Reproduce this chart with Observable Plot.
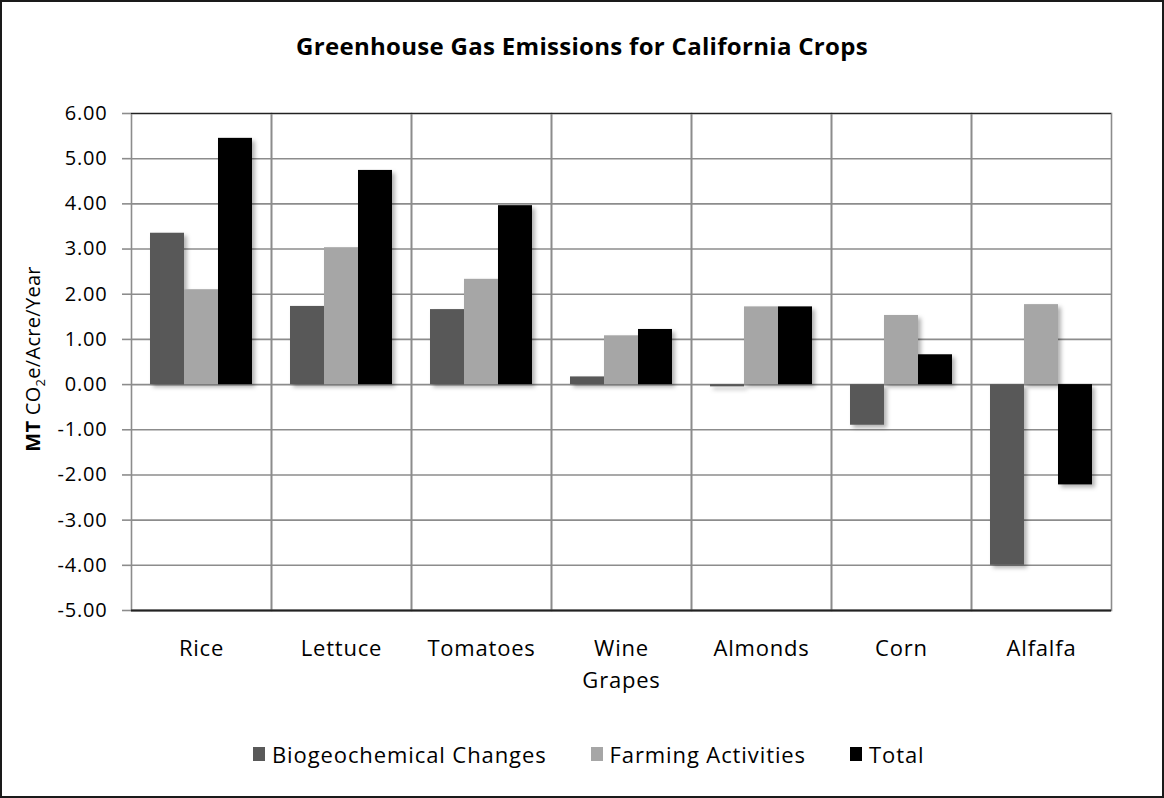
<!DOCTYPE html>
<html>
<head>
<meta charset="utf-8">
<script src="https://cdn.jsdelivr.net/npm/d3@7"></script>
<script src="https://cdn.jsdelivr.net/npm/@observablehq/plot@0.6"></script>
<style>
  html, body { margin: 0; padding: 0; background: #fff; }
  #frame {
    position: relative; width: 1164px; height: 798px; box-sizing: border-box;
    border: 2px solid #1a1a1a; background: #fff; overflow: hidden;
    font-family: "Open Sans", sans-serif; color: #000;
  }
  #title {
    position: absolute; left: 0; right: 0; top: 29px; text-align: center;
    font-weight: bold; font-size: 24px; line-height: 30px; letter-spacing: 0.3px;
  }
  #chart { position: absolute; left: 0; top: 0; }
  #legend {
    position: absolute; left: 251px; top: 737px; display: flex;
    justify-content: flex-start; align-items: center; font-size: 22px; line-height: 30px;
    letter-spacing: 0.9px; white-space: nowrap;
  }
  #legend .item { display: flex; align-items: center; margin-right: 44px; }
  #legend .sw { width: 12px; height: 14px; margin-right: 7px; }
  svg text { letter-spacing: 0.8px; }
</style>
</head>
<body>
<div id="frame">
  <div id="title">Greenhouse Gas Emissions for California Crops</div>
  <div id="chart"></div>
  <div id="legend"></div>
</div>
<script>
const crops = ["Rice", "Lettuce", "Tomatoes", "Wine Grapes", "Almonds", "Corn", "Alfalfa"];
const seriesNames = ["Biogeochemical Changes", "Farming Activities", "Total"];
const biogeochemical = [3.35, 1.73, 1.66, 0.17, -0.05, -0.90, -4.00];
const farming = [2.10, 3.03, 2.33, 1.08, 1.72, 1.53, 1.77];
const total = [5.45, 4.74, 3.96, 1.22, 1.72, 0.66, -2.22];
const yTicks = [-5, -4, -3, -2, -1, 0, 1, 2, 3, 4, 5, 6];
const seriesColors = ["#595959", "#a6a6a6", "#000000"];

const seriesValues = [biogeochemical, farming, total];
const data = [];
crops.forEach((crop, i) => {
  seriesNames.forEach((s, j) => data.push({crop, series: s, value: seriesValues[j][i]}));
});

const gridColor = "#8c8c8c";

const plot = Plot.plot({
  width: 1160,
  height: 700,
  marginTop: 111,
  marginBottom: 92,
  marginLeft: 129,
  marginRight: 51,
  style: {fontFamily: "'Open Sans', sans-serif", color: "#000", background: "transparent", overflow: "visible"},
  fx: {domain: crops, padding: 0},
  x: {domain: seriesNames, axis: null, paddingInner: 0, paddingOuter: 0.55},
  y: {domain: [-5, 6]},
  color: {domain: seriesNames, range: seriesColors},
  marks: [
    Plot.gridY(yTicks, {stroke: gridColor, strokeOpacity: 1, strokeWidth: 1.6}),
    Plot.frame({stroke: gridColor, strokeWidth: 1.6}),
    Plot.barY(data, {fx: "crop", x: "series", y: "value", fill: "series"}),
    Plot.ruleY([6], {stroke: "#222", strokeWidth: 1.2}),
    Plot.ruleY([-5], {stroke: "#222", strokeWidth: 2}),
    Plot.axisY(yTicks, {
      tickFormat: d => d.toFixed(2), tickSize: 9, tickPadding: 15,
      stroke: gridColor, strokeWidth: 1.6, fontSize: 20, label: null
    }),
    Plot.axisFx({
      anchor: "bottom", tickSize: 0, tickPadding: 23, fontSize: 22, label: null,
      tickFormat: d => d.replace(" ", "\n"), lineHeight: 1.45
    })
  ]
});

document.getElementById("chart").appendChild(plot);

// drop shadow for bars, like the original
const svg = d3.select(plot);
const defs = svg.insert("defs", ":first-child");
const f = defs.append("filter").attr("id", "shadow").attr("x", "-20%").attr("y", "-20%").attr("width", "150%").attr("height", "150%");
f.append("feDropShadow").attr("dx", 3).attr("dy", 3).attr("stdDeviation", 2).attr("flood-color", "#000").attr("flood-opacity", 0.3);
svg.selectAll('g[aria-label="bar"]').attr("filter", "url(#shadow)");

// y-axis title with bold MT and subscript 2
const yl = svg.append("text")
  .attr("transform", "translate(38,357) rotate(-90)")
  .attr("text-anchor", "middle")
  .attr("font-size", 20)
  .attr("fill", "#000")
  .style("letter-spacing", "0.3px");
yl.append("tspan").attr("font-weight", "bold").text("MT ");
yl.append("tspan").text("CO");
yl.append("tspan").attr("font-size", 13).attr("dy", 5).text("2");
yl.append("tspan").attr("dy", -5).text("e/Acre/Year");

// legend
const legend = document.getElementById("legend");
seriesNames.forEach((s, i) => {
  const item = document.createElement("div");
  item.className = "item";
  const sw = document.createElement("span");
  sw.className = "sw";
  sw.style.background = seriesColors[i];
  const t = document.createElement("span");
  t.textContent = s;
  item.appendChild(sw);
  item.appendChild(t);
  legend.appendChild(item);
});
</script>
</body>
</html>
